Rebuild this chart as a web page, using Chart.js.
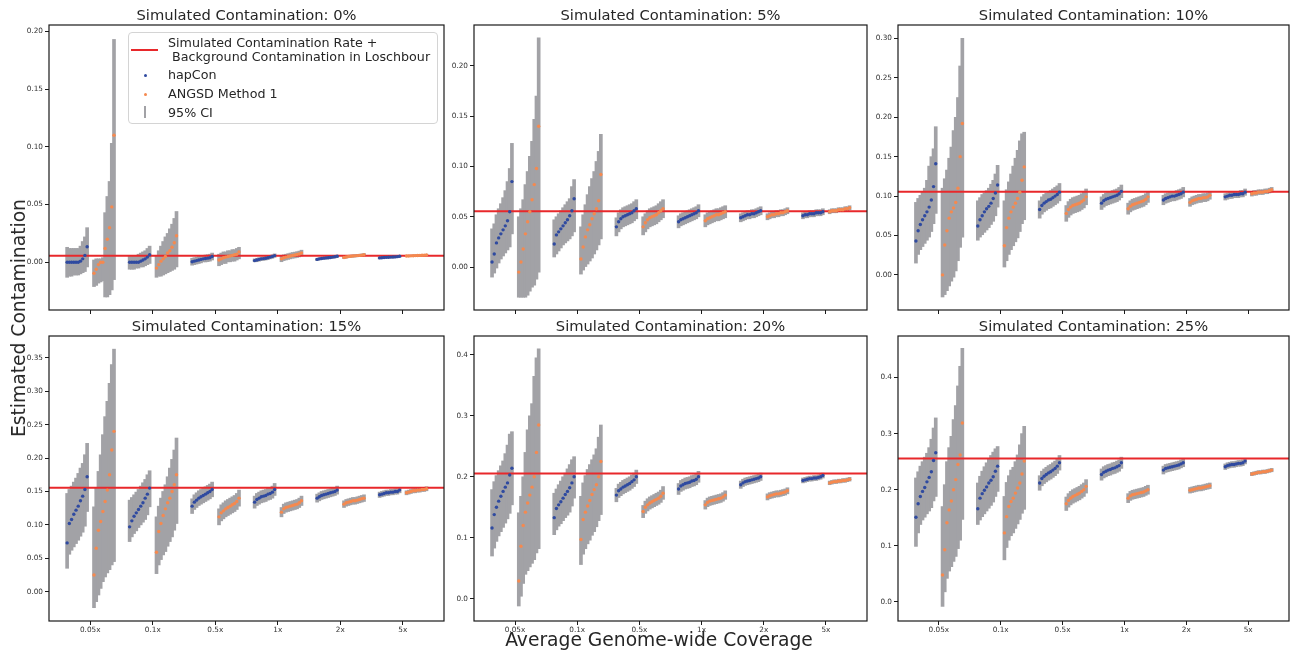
<!DOCTYPE html>
<html>
<head>
<meta charset="utf-8">
<script src="https://cdn.jsdelivr.net/npm/chart.js@4.4.1/dist/chart.umd.min.js"></script>
<style>
  body { margin: 0; width: 1290px; height: 653px; overflow: hidden; background: #fff; position: relative;
         font-family: "DejaVu Sans", sans-serif; color: #262626; }
  canvas { position: absolute; }
  .title { position: absolute; font-size: 14.7px; line-height: 18px; text-align: center; white-space: nowrap; }
  .leg { position: absolute; font-size: 12.7px; line-height: 15px; white-space: pre; }
  .axlabel { position: absolute; font-size: 18.7px; line-height: 22px; white-space: nowrap; }
</style>
</head>
<body>
<canvas id="c0"></canvas><canvas id="c1"></canvas><canvas id="c2"></canvas>
<canvas id="c3"></canvas><canvas id="c4"></canvas><canvas id="c5"></canvas>

<div id="legendBox" style="position:absolute;left:128px;top:32px;width:308px;height:90px;border:1px solid #d4d4d4;border-radius:4px;background:rgba(255,255,255,0.85);"></div>
<div style="position:absolute;left:131px;top:49px;width:27px;height:2px;background:#e8282b;"></div>
<div class="leg" style="left:168px;top:34.5px;">Simulated Contamination Rate +</div>
<div class="leg" style="left:168px;top:48.5px;"> Background Contamination in Loschbour</div>
<div style="position:absolute;left:143.5px;top:74px;width:3px;height:3px;border-radius:50%;background:#2f4aa0;"></div>
<div class="leg" style="left:168px;top:67px;">hapCon</div>
<div style="position:absolute;left:143.5px;top:92.5px;width:3px;height:3px;border-radius:50%;background:#f5894f;"></div>
<div class="leg" style="left:168px;top:85.5px;">ANGSD Method 1</div>
<div style="position:absolute;left:144px;top:106px;width:2px;height:12px;background:#a2a2a6;"></div>
<div class="leg" style="left:168px;top:104.5px;">95% CI</div>

<div class="axlabel" style="left:19px;top:318px;transform:translate(-50%,-50%) rotate(-90deg);">Estimated Contamination</div>
<div class="axlabel" style="left:659px;top:640px;transform:translate(-50%,-50%);">Average Genome-wide Coverage</div>

<script>
const coverages = ["0.05x", "0.1x", "0.5x", "1x", "2x", "5x"];
const contaminationRates = [0, 5, 10, 15, 20, 25]; // percent
const backgroundContamination = 0.0056;

// y tick values per panel
const yTicks0 = [0, 0.05, 0.10, 0.15, 0.20];
const yTicks5 = [0, 0.05, 0.10, 0.15, 0.20];
const yTicks10 = [0, 0.05, 0.10, 0.15, 0.20, 0.25, 0.30];
const yTicks15 = [0, 0.05, 0.10, 0.15, 0.20, 0.25, 0.30, 0.35];
const yTicks20 = [0, 0.1, 0.2, 0.3, 0.4];
const yTicks25 = [0, 0.1, 0.2, 0.3, 0.4];
const yMins = [-0.0413, -0.0427, -0.0445, -0.0439, -0.0366, -0.034];
const yMaxs = [0.2055, 0.2407, 0.317, 0.3827, 0.431, 0.474];

// each row = one coverage (0.05x .. 5x), sorted replicate estimates
// ---- 0% ----
const hap0Est = [
  [0,0,0,0,0,0,0.001,0.003,0.006,0.0135],
  [0,0,0,0,0,0.001,0.002,0.003,0.0045,0.0065],
  [0.0005,0.001,0.0015,0.002,0.0025,0.003,0.0033,0.0036,0.004,0.005],
  [0.0015,0.002,0.0025,0.003,0.0032,0.0035,0.004,0.0045,0.005,0.0058],
  [0.0025,0.003,0.0033,0.0036,0.0038,0.004,0.0042,0.0045,0.0048,0.0052],
  [0.0038,0.004,0.0042,0.0043,0.0044,0.0045,0.0046,0.0047,0.0049,0.0052]];
const hap0Lo = [
  [-0.013,-0.012,-0.012,-0.011,-0.011,-0.011,-0.010,-0.009,-0.008,-0.004],
  [-0.006,-0.006,-0.006,-0.005,-0.005,-0.004,-0.004,-0.003,-0.002,-0.001],
  [-0.0025,-0.002,-0.0015,-0.001,-0.0005,0,0.0003,0.0006,0.001,0.002],
  [0,0.0005,0.001,0.0015,0.0017,0.002,0.0025,0.003,0.0035,0.0043],
  [0.0015,0.002,0.0023,0.0026,0.0028,0.003,0.0032,0.0035,0.0038,0.0042],
  [0.003,0.0032,0.0034,0.0035,0.0036,0.0037,0.0038,0.0039,0.0041,0.0044]];
const hap0Hi = [
  [0.013,0.012,0.012,0.012,0.012,0.012,0.014,0.018,0.022,0.030],
  [0.006,0.006,0.006,0.006,0.007,0.008,0.009,0.010,0.012,0.014],
  [0.0035,0.004,0.0045,0.005,0.0055,0.006,0.0063,0.0066,0.007,0.008],
  [0.003,0.0035,0.004,0.0045,0.0047,0.005,0.0055,0.006,0.0065,0.0073],
  [0.0035,0.004,0.0043,0.0046,0.0048,0.005,0.0052,0.0055,0.0058,0.0062],
  [0.0046,0.0048,0.005,0.0051,0.0052,0.0053,0.0054,0.0055,0.0057,0.006]];
const ang0Est = [
  [-0.0095,-0.006,-0.002,0.0,0.0,0.012,0.020,0.030,0.048,0.110],
  [-0.005,-0.002,0.001,0.003,0.005,0.008,0.010,0.013,0.017,0.023],
  [0.002,0.003,0.004,0.0045,0.005,0.0055,0.006,0.0065,0.007,0.009],
  [0.003,0.004,0.0045,0.005,0.0055,0.006,0.0063,0.0067,0.0072,0.008],
  [0.0042,0.0046,0.005,0.0052,0.0054,0.0056,0.0058,0.006,0.0062,0.0066],
  [0.0054,0.0055,0.0056,0.0057,0.0058,0.0059,0.006,0.0061,0.0062,0.0064]];
const ang0Lo = [
  [-0.021,-0.020,-0.018,-0.017,-0.016,-0.030,-0.030,-0.028,-0.024,-0.015],
  [-0.013,-0.012,-0.012,-0.011,-0.010,-0.009,-0.008,-0.007,-0.006,-0.004],
  [-0.003,-0.002,-0.001,-0.001,0,0,0.001,0.001,0.002,0.003],
  [0.0005,0.0015,0.002,0.0025,0.003,0.0035,0.0038,0.0042,0.0047,0.0055],
  [0.0032,0.0036,0.004,0.0042,0.0044,0.0046,0.0048,0.005,0.0052,0.0056],
  [0.0048,0.0049,0.005,0.0051,0.0052,0.0053,0.0054,0.0055,0.0056,0.0058]];
const ang0Hi = [
  [0.002,0.003,0.003,0.003,0.004,0.043,0.057,0.070,0.103,0.193],
  [0.006,0.010,0.014,0.018,0.022,0.025,0.029,0.033,0.038,0.044],
  [0.007,0.008,0.009,0.009,0.010,0.010,0.011,0.011,0.012,0.013],
  [0.0055,0.0065,0.007,0.0075,0.008,0.0085,0.0088,0.0092,0.0097,0.0105],
  [0.0052,0.0056,0.006,0.0062,0.0064,0.0066,0.0068,0.007,0.0072,0.0076],
  [0.006,0.0061,0.0062,0.0063,0.0064,0.0065,0.0066,0.0067,0.0068,0.007]];

// ---- 5% ----
const hap5Est = [
  [0.005,0.013,0.024,0.029,0.033,0.037,0.041,0.046,0.055,0.085],
  [0.023,0.032,0.035,0.038,0.041,0.044,0.047,0.051,0.056,0.068],
  [0.040,0.045,0.048,0.050,0.051,0.052,0.053,0.054,0.056,0.058],
  [0.045,0.047,0.048,0.049,0.050,0.051,0.052,0.053,0.054,0.056],
  [0.049,0.050,0.051,0.052,0.052,0.053,0.053,0.054,0.055,0.056],
  [0.051,0.052,0.052,0.053,0.053,0.053,0.054,0.054,0.054,0.055]];
const hap5Lo = [
  [-0.010,-0.006,-0.001,0.004,0.008,0.011,0.014,0.017,0.020,0.033],
  [0.010,0.013,0.016,0.019,0.022,0.024,0.026,0.028,0.031,0.035],
  [0.031,0.035,0.038,0.040,0.041,0.042,0.043,0.044,0.046,0.048],
  [0.039,0.041,0.042,0.043,0.044,0.045,0.046,0.047,0.048,0.050],
  [0.045,0.046,0.047,0.048,0.048,0.049,0.049,0.050,0.051,0.052],
  [0.048,0.049,0.049,0.050,0.050,0.050,0.051,0.051,0.051,0.052]];
const hap5Hi = [
  [0.038,0.043,0.052,0.058,0.063,0.069,0.076,0.085,0.098,0.123],
  [0.047,0.050,0.053,0.056,0.059,0.062,0.065,0.068,0.080,0.087],
  [0.049,0.054,0.057,0.059,0.060,0.061,0.062,0.063,0.065,0.067],
  [0.051,0.053,0.054,0.055,0.056,0.057,0.058,0.059,0.060,0.062],
  [0.053,0.054,0.055,0.056,0.056,0.057,0.057,0.058,0.059,0.060],
  [0.054,0.055,0.055,0.056,0.056,0.056,0.057,0.057,0.057,0.058]];
const ang5Est = [
  [-0.005,0.005,0.018,0.033,0.045,0.055,0.067,0.082,0.098,0.140],
  [0.008,0.020,0.030,0.037,0.042,0.048,0.053,0.058,0.066,0.092],
  [0.040,0.044,0.047,0.049,0.050,0.051,0.052,0.054,0.056,0.058],
  [0.046,0.048,0.049,0.050,0.051,0.052,0.052,0.053,0.054,0.055],
  [0.050,0.051,0.052,0.052,0.053,0.053,0.054,0.054,0.055,0.056],
  [0.055,0.056,0.056,0.056,0.057,0.057,0.057,0.058,0.058,0.059]];
const ang5Lo = [
  [-0.030,-0.030,-0.030,-0.030,-0.028,-0.024,-0.020,-0.018,-0.012,-0.005],
  [-0.007,-0.003,0.000,0.003,0.006,0.009,0.013,0.017,0.022,0.028],
  [0.032,0.035,0.038,0.040,0.041,0.042,0.043,0.045,0.047,0.049],
  [0.040,0.042,0.043,0.044,0.045,0.046,0.046,0.047,0.048,0.049],
  [0.047,0.048,0.049,0.049,0.050,0.050,0.051,0.051,0.052,0.053],
  [0.053,0.054,0.054,0.054,0.055,0.055,0.055,0.056,0.056,0.057]];
const ang5Hi = [
  [0.050,0.058,0.067,0.082,0.095,0.110,0.125,0.147,0.170,0.228],
  [0.040,0.052,0.062,0.072,0.080,0.088,0.095,0.105,0.115,0.132],
  [0.050,0.053,0.056,0.058,0.059,0.060,0.061,0.063,0.065,0.067],
  [0.052,0.054,0.055,0.056,0.057,0.058,0.058,0.059,0.060,0.061],
  [0.053,0.054,0.055,0.055,0.056,0.056,0.057,0.057,0.058,0.059],
  [0.057,0.058,0.058,0.058,0.059,0.059,0.059,0.060,0.060,0.061]];

// ---- 10% ----
const hap10Est = [
  [0.043,0.056,0.064,0.070,0.075,0.080,0.086,0.095,0.112,0.141],
  [0.062,0.070,0.075,0.080,0.084,0.087,0.091,0.097,0.104,0.114],
  [0.083,0.088,0.091,0.093,0.095,0.096,0.098,0.100,0.102,0.105],
  [0.091,0.094,0.096,0.097,0.098,0.099,0.100,0.101,0.103,0.106],
  [0.095,0.097,0.098,0.099,0.100,0.100,0.101,0.102,0.103,0.105],
  [0.099,0.100,0.101,0.101,0.102,0.102,0.102,0.103,0.103,0.105]];
const hap10Lo = [
  [0.015,0.026,0.032,0.036,0.040,0.044,0.048,0.055,0.065,0.078],
  [0.044,0.048,0.051,0.054,0.057,0.060,0.064,0.068,0.075,0.086],
  [0.072,0.077,0.080,0.082,0.084,0.085,0.087,0.089,0.091,0.094],
  [0.083,0.086,0.088,0.089,0.090,0.091,0.092,0.093,0.095,0.098],
  [0.089,0.091,0.092,0.093,0.094,0.094,0.095,0.096,0.097,0.099],
  [0.095,0.096,0.097,0.097,0.098,0.098,0.098,0.099,0.099,0.101]];
const hap10Hi = [
  [0.092,0.097,0.101,0.105,0.110,0.120,0.138,0.150,0.160,0.188],
  [0.094,0.098,0.102,0.104,0.107,0.110,0.115,0.120,0.128,0.139],
  [0.094,0.099,0.102,0.104,0.106,0.107,0.109,0.111,0.113,0.116],
  [0.099,0.102,0.104,0.105,0.106,0.107,0.108,0.109,0.111,0.114],
  [0.101,0.103,0.104,0.105,0.106,0.106,0.107,0.108,0.109,0.111],
  [0.103,0.104,0.105,0.105,0.106,0.106,0.106,0.107,0.107,0.109]];
const ang10Est = [
  [0.000,0.038,0.056,0.072,0.080,0.085,0.092,0.110,0.150,0.192],
  [0.037,0.060,0.072,0.080,0.086,0.091,0.097,0.105,0.120,0.137],
  [0.078,0.083,0.086,0.088,0.089,0.090,0.091,0.093,0.095,0.099],
  [0.084,0.087,0.089,0.090,0.091,0.092,0.093,0.094,0.096,0.099],
  [0.092,0.094,0.095,0.096,0.097,0.097,0.098,0.098,0.099,0.101],
  [0.103,0.104,0.104,0.105,0.105,0.105,0.106,0.106,0.107,0.108]];
const ang10Lo = [
  [-0.028,-0.025,-0.020,-0.014,-0.008,-0.003,0.005,0.018,0.035,0.048],
  [0.010,0.018,0.026,0.032,0.037,0.042,0.047,0.055,0.065,0.070],
  [0.068,0.073,0.076,0.078,0.079,0.080,0.081,0.083,0.085,0.089],
  [0.077,0.080,0.082,0.083,0.084,0.085,0.086,0.087,0.089,0.092],
  [0.087,0.089,0.090,0.091,0.092,0.092,0.093,0.093,0.094,0.096],
  [0.100,0.101,0.101,0.102,0.102,0.102,0.103,0.103,0.104,0.105]];
const ang10Hi = [
  [0.110,0.122,0.133,0.148,0.162,0.183,0.200,0.225,0.265,0.300],
  [0.094,0.108,0.118,0.128,0.138,0.148,0.158,0.170,0.179,0.181],
  [0.088,0.093,0.096,0.098,0.099,0.100,0.101,0.103,0.105,0.109],
  [0.091,0.094,0.096,0.097,0.098,0.099,0.100,0.101,0.103,0.106],
  [0.097,0.099,0.100,0.101,0.102,0.102,0.103,0.103,0.104,0.106],
  [0.106,0.107,0.107,0.108,0.108,0.108,0.109,0.109,0.110,0.111]];

// ---- 15% ----
const hap15Est = [
  [0.073,0.102,0.108,0.116,0.122,0.128,0.136,0.143,0.153,0.172],
  [0.097,0.106,0.113,0.118,0.123,0.128,0.133,0.140,0.146,0.155],
  [0.128,0.134,0.137,0.140,0.142,0.144,0.146,0.148,0.150,0.153],
  [0.134,0.138,0.140,0.142,0.143,0.144,0.146,0.147,0.149,0.153],
  [0.140,0.142,0.144,0.145,0.146,0.147,0.148,0.149,0.150,0.152],
  [0.145,0.146,0.147,0.148,0.148,0.149,0.149,0.150,0.150,0.152]];
const hap15Lo = [
  [0.035,0.056,0.062,0.067,0.072,0.077,0.083,0.089,0.098,0.120],
  [0.075,0.082,0.087,0.091,0.096,0.100,0.104,0.108,0.115,0.127],
  [0.117,0.123,0.126,0.129,0.131,0.133,0.135,0.137,0.139,0.142],
  [0.125,0.129,0.131,0.133,0.134,0.135,0.137,0.138,0.140,0.144],
  [0.134,0.136,0.138,0.139,0.140,0.141,0.142,0.143,0.144,0.146],
  [0.141,0.142,0.143,0.144,0.144,0.145,0.145,0.146,0.146,0.148]];
const hap15Hi = [
  [0.147,0.153,0.158,0.164,0.170,0.177,0.185,0.192,0.205,0.222],
  [0.137,0.141,0.145,0.149,0.153,0.158,0.163,0.168,0.175,0.181],
  [0.139,0.145,0.148,0.151,0.153,0.155,0.157,0.159,0.161,0.164],
  [0.143,0.147,0.149,0.151,0.152,0.153,0.155,0.156,0.158,0.162],
  [0.146,0.148,0.150,0.151,0.152,0.153,0.154,0.155,0.156,0.158],
  [0.149,0.150,0.151,0.152,0.152,0.153,0.153,0.154,0.154,0.156]];
const ang15Est = [
  [0.025,0.065,0.092,0.105,0.120,0.135,0.152,0.175,0.212,0.240],
  [0.059,0.090,0.102,0.114,0.124,0.133,0.140,0.150,0.160,0.175],
  [0.112,0.118,0.121,0.124,0.126,0.128,0.130,0.132,0.135,0.140],
  [0.119,0.124,0.126,0.127,0.128,0.129,0.130,0.131,0.133,0.136],
  [0.131,0.133,0.134,0.135,0.136,0.136,0.137,0.138,0.139,0.140],
  [0.148,0.149,0.150,0.151,0.151,0.152,0.152,0.153,0.153,0.154]];
const ang15Lo = [
  [-0.024,-0.015,-0.005,0.005,0.015,0.022,0.028,0.033,0.040,0.045],
  [0.027,0.040,0.048,0.055,0.060,0.068,0.075,0.082,0.092,0.102],
  [0.100,0.106,0.109,0.112,0.114,0.116,0.118,0.120,0.123,0.128],
  [0.112,0.117,0.119,0.120,0.121,0.122,0.123,0.124,0.126,0.129],
  [0.126,0.128,0.129,0.130,0.131,0.131,0.132,0.133,0.134,0.135],
  [0.145,0.146,0.147,0.148,0.148,0.149,0.149,0.150,0.150,0.151]];
const ang15Hi = [
  [0.127,0.155,0.180,0.205,0.235,0.262,0.285,0.312,0.340,0.363],
  [0.112,0.128,0.140,0.150,0.160,0.172,0.185,0.198,0.212,0.230],
  [0.124,0.130,0.133,0.136,0.138,0.140,0.142,0.144,0.147,0.152],
  [0.126,0.131,0.133,0.134,0.135,0.136,0.137,0.138,0.140,0.143],
  [0.136,0.138,0.139,0.140,0.141,0.141,0.142,0.143,0.144,0.145],
  [0.151,0.152,0.153,0.154,0.154,0.155,0.155,0.156,0.156,0.157]];

// ---- 20% ----
const hap20Est = [
  [0.116,0.138,0.150,0.160,0.168,0.176,0.183,0.190,0.203,0.214],
  [0.133,0.148,0.154,0.159,0.165,0.171,0.176,0.182,0.190,0.200],
  [0.170,0.177,0.180,0.183,0.185,0.187,0.189,0.192,0.195,0.200],
  [0.180,0.185,0.187,0.189,0.190,0.191,0.193,0.194,0.196,0.200],
  [0.187,0.190,0.192,0.193,0.194,0.195,0.196,0.197,0.198,0.200],
  [0.194,0.195,0.196,0.197,0.197,0.198,0.198,0.199,0.200,0.202]];
const hap20Lo = [
  [0.070,0.083,0.094,0.103,0.110,0.117,0.124,0.131,0.140,0.154],
  [0.105,0.113,0.119,0.123,0.128,0.133,0.137,0.142,0.152,0.165],
  [0.159,0.166,0.169,0.172,0.174,0.176,0.178,0.181,0.184,0.189],
  [0.171,0.176,0.178,0.180,0.181,0.182,0.184,0.185,0.187,0.191],
  [0.181,0.184,0.186,0.187,0.188,0.189,0.190,0.191,0.192,0.194],
  [0.190,0.191,0.192,0.193,0.193,0.194,0.194,0.195,0.196,0.198]];
const hap20Hi = [
  [0.179,0.192,0.202,0.210,0.218,0.226,0.238,0.252,0.270,0.274],
  [0.173,0.180,0.187,0.193,0.200,0.206,0.213,0.220,0.228,0.233],
  [0.181,0.188,0.191,0.194,0.196,0.198,0.200,0.203,0.206,0.211],
  [0.189,0.194,0.196,0.198,0.199,0.200,0.202,0.203,0.205,0.209],
  [0.193,0.196,0.198,0.199,0.200,0.201,0.202,0.203,0.204,0.206],
  [0.198,0.199,0.200,0.201,0.201,0.202,0.202,0.203,0.204,0.206]];
const ang20Est = [
  [0.029,0.086,0.120,0.142,0.157,0.170,0.183,0.200,0.240,0.285],
  [0.097,0.130,0.142,0.152,0.161,0.171,0.179,0.187,0.200,0.225],
  [0.143,0.150,0.154,0.157,0.159,0.161,0.163,0.165,0.168,0.173],
  [0.154,0.158,0.160,0.161,0.162,0.163,0.164,0.165,0.167,0.170],
  [0.167,0.169,0.170,0.171,0.172,0.172,0.173,0.174,0.175,0.177],
  [0.190,0.191,0.192,0.192,0.193,0.193,0.194,0.194,0.195,0.196]];
const ang20Lo = [
  [-0.012,0.004,0.025,0.040,0.046,0.052,0.058,0.064,0.075,0.082],
  [0.056,0.073,0.082,0.090,0.096,0.104,0.110,0.118,0.128,0.138],
  [0.133,0.140,0.144,0.147,0.149,0.151,0.153,0.155,0.158,0.163],
  [0.147,0.151,0.153,0.154,0.155,0.156,0.157,0.158,0.160,0.163],
  [0.162,0.164,0.165,0.166,0.167,0.167,0.168,0.169,0.170,0.172],
  [0.187,0.188,0.189,0.189,0.190,0.190,0.191,0.191,0.192,0.193]];
const ang20Hi = [
  [0.141,0.168,0.200,0.240,0.277,0.300,0.320,0.365,0.395,0.410],
  [0.168,0.190,0.202,0.212,0.220,0.228,0.236,0.246,0.265,0.285],
  [0.153,0.160,0.164,0.167,0.169,0.171,0.173,0.175,0.178,0.184],
  [0.161,0.165,0.167,0.168,0.169,0.170,0.171,0.172,0.174,0.177],
  [0.172,0.174,0.175,0.176,0.177,0.177,0.178,0.179,0.180,0.182],
  [0.193,0.194,0.195,0.195,0.196,0.196,0.197,0.197,0.198,0.199]];

// ---- 25% ----
const hap25Est = [
  [0.151,0.175,0.188,0.197,0.204,0.214,0.222,0.232,0.252,0.266],
  [0.166,0.185,0.193,0.199,0.205,0.212,0.217,0.223,0.233,0.242],
  [0.212,0.220,0.224,0.227,0.230,0.232,0.235,0.238,0.242,0.248],
  [0.227,0.231,0.233,0.235,0.236,0.238,0.239,0.241,0.243,0.248],
  [0.235,0.238,0.239,0.240,0.241,0.242,0.243,0.244,0.246,0.248],
  [0.241,0.243,0.244,0.245,0.245,0.246,0.247,0.247,0.248,0.251]];
const hap25Lo = [
  [0.099,0.123,0.138,0.146,0.151,0.157,0.162,0.168,0.180,0.188],
  [0.138,0.146,0.152,0.157,0.162,0.167,0.172,0.178,0.188,0.197],
  [0.199,0.207,0.211,0.214,0.217,0.219,0.222,0.225,0.229,0.235],
  [0.217,0.221,0.223,0.225,0.226,0.228,0.229,0.231,0.233,0.238],
  [0.228,0.231,0.232,0.233,0.234,0.235,0.236,0.237,0.239,0.241],
  [0.236,0.238,0.239,0.240,0.240,0.241,0.242,0.242,0.243,0.246]];
const hap25Hi = [
  [0.221,0.232,0.242,0.250,0.258,0.265,0.275,0.290,0.310,0.328],
  [0.212,0.224,0.233,0.241,0.248,0.255,0.261,0.267,0.273,0.277],
  [0.225,0.233,0.237,0.240,0.243,0.245,0.248,0.251,0.255,0.261],
  [0.237,0.241,0.243,0.245,0.246,0.248,0.249,0.251,0.253,0.258],
  [0.242,0.245,0.246,0.247,0.248,0.249,0.250,0.251,0.253,0.255],
  [0.246,0.248,0.249,0.250,0.250,0.251,0.252,0.252,0.253,0.256]];
const ang25Est = [
  [0.048,0.093,0.141,0.164,0.180,0.200,0.218,0.245,0.262,0.319],
  [0.123,0.152,0.170,0.179,0.185,0.194,0.203,0.212,0.228,0.251],
  [0.175,0.181,0.185,0.188,0.190,0.192,0.194,0.197,0.200,0.206],
  [0.185,0.189,0.191,0.192,0.193,0.194,0.195,0.196,0.198,0.200],
  [0.199,0.200,0.201,0.202,0.203,0.203,0.204,0.205,0.206,0.207],
  [0.228,0.229,0.230,0.231,0.231,0.232,0.232,0.233,0.234,0.235]];
const ang25Lo = [
  [-0.008,0.018,0.042,0.055,0.063,0.072,0.081,0.095,0.110,0.147],
  [0.075,0.097,0.110,0.118,0.123,0.131,0.139,0.147,0.158,0.165],
  [0.163,0.169,0.173,0.176,0.178,0.180,0.182,0.185,0.188,0.194],
  [0.177,0.181,0.183,0.184,0.185,0.186,0.187,0.188,0.190,0.192],
  [0.194,0.195,0.196,0.197,0.198,0.198,0.199,0.200,0.201,0.202],
  [0.225,0.226,0.227,0.228,0.228,0.229,0.229,0.230,0.231,0.232]];
const ang25Hi = [
  [0.170,0.209,0.250,0.275,0.295,0.325,0.350,0.385,0.420,0.452],
  [0.188,0.213,0.225,0.235,0.240,0.250,0.262,0.280,0.300,0.313],
  [0.187,0.193,0.197,0.200,0.202,0.204,0.206,0.209,0.212,0.218],
  [0.193,0.197,0.199,0.200,0.201,0.202,0.203,0.204,0.206,0.208],
  [0.204,0.205,0.206,0.207,0.208,0.208,0.209,0.210,0.211,0.212],
  [0.231,0.232,0.233,0.234,0.234,0.235,0.235,0.236,0.237,0.238]];

const panels = [
  { hapEst: hap0Est, hapLo: hap0Lo, hapHi: hap0Hi, angEst: ang0Est, angLo: ang0Lo, angHi: ang0Hi, yTicks: yTicks0 },
  { hapEst: hap5Est, hapLo: hap5Lo, hapHi: hap5Hi, angEst: ang5Est, angLo: ang5Lo, angHi: ang5Hi, yTicks: yTicks5 },
  { hapEst: hap10Est, hapLo: hap10Lo, hapHi: hap10Hi, angEst: ang10Est, angLo: ang10Lo, angHi: ang10Hi, yTicks: yTicks10 },
  { hapEst: hap15Est, hapLo: hap15Lo, hapHi: hap15Hi, angEst: ang15Est, angLo: ang15Lo, angHi: ang15Hi, yTicks: yTicks15 },
  { hapEst: hap20Est, hapLo: hap20Lo, hapHi: hap20Hi, angEst: ang20Est, angLo: ang20Lo, angHi: ang20Hi, yTicks: yTicks20 },
  { hapEst: hap25Est, hapLo: hap25Lo, hapHi: hap25Hi, angEst: ang25Est, angLo: ang25Lo, angHi: ang25Hi, yTicks: yTicks25 }
];

const BLUE = "#2f4aa0", ORANGE = "#f5894f", GRAY = "#a2a2a6", RED = "#e8282b";
const X_MIN = -0.66, X_MAX = 5.66;
const REPS = 10, SPREAD = 0.32;

// plot boxes (left, top, width, height) in page pixels
const boxLefts = [49, 474, 898], boxWidths = [395, 393, 391];
const boxTops = [25, 336], boxHeight = 285;
const AXIS_W = 45, AXIS_H = 20, PAD_T = 8, PAD_R = 6;

// replicate offset around the coverage tick: hapCon left, ANGSD right
function xOffset(method, i) {
  const start = method === "hap" ? -0.37 : 0.06;
  return start + i * SPREAD / (REPS - 1);
}

const framePlugin = {
  id: "frame",
  afterDraw(chart) {
    const { ctx, chartArea: a } = chart;
    ctx.save();
    ctx.strokeStyle = "#1a1a1a";
    ctx.lineWidth = 1.2;
    ctx.strokeRect(a.left, a.top, a.right - a.left, a.bottom - a.top);
    ctx.restore();
  }
};

panels.forEach((p, k) => {
  const row = Math.floor(k / 3), col = k % 3;
  const L = boxLefts[col], T = boxTops[row], W = boxWidths[col], H = boxHeight;
  const canvas = document.getElementById("c" + k);
  canvas.width = W + AXIS_W + PAD_R;
  canvas.height = H + PAD_T + AXIS_H;
  canvas.style.left = (L - AXIS_W) + "px";
  canvas.style.top = (T - PAD_T) + "px";

  const title = document.createElement("div");
  title.className = "title";
  title.textContent = "Simulated Contamination: " + contaminationRates[k] + "%";
  title.style.left = L + "px";
  title.style.width = W + "px";
  title.style.top = (T - 19) + "px";
  document.body.appendChild(title);

  const hapPts = [], angPts = [], ciBars = [];
  coverages.forEach((c, g) => {
    for (let i = 0; i < REPS; i++) {
      const xh = g + xOffset("hap", i), xa = g + xOffset("ang", i);
      hapPts.push({ x: xh, y: p.hapEst[g][i] });
      angPts.push({ x: xa, y: p.angEst[g][i] });
      ciBars.push({ x: xh, y: [p.hapLo[g][i], p.hapHi[g][i]] });
      ciBars.push({ x: xa, y: [p.angLo[g][i], p.angHi[g][i]] });
    }
  });
  const truth = contaminationRates[k] / 100 + backgroundContamination;
  const decimals = p.yTicks[1] < 0.1 ? 2 : 1;

  new Chart(canvas, {
    type: "scatter",
    data: {
      datasets: [
        { type: "scatter", label: "hapCon", data: hapPts, order: 0,
          backgroundColor: BLUE, borderColor: BLUE, pointRadius: 1.7, borderWidth: 0 },
        { type: "scatter", label: "ANGSD Method 1", data: angPts, order: 0,
          backgroundColor: ORANGE, borderColor: ORANGE, pointRadius: 1.7, borderWidth: 0 },
        { type: "line", label: "truth", data: [{ x: X_MIN, y: truth }, { x: X_MAX, y: truth }], order: 1,
          borderColor: RED, borderWidth: 2, pointRadius: 0, fill: false },
        { type: "bar", label: "95% CI", data: ciBars, order: 2, grouped: false,
          backgroundColor: GRAY, borderWidth: 0, barThickness: 3 }
      ]
    },
    options: {
      responsive: false,
      animation: false,
      devicePixelRatio: 1,
      layout: { padding: { left: 0, top: PAD_T, right: PAD_R, bottom: 0 } },
      plugins: { legend: { display: false }, tooltip: { enabled: false }, title: { display: false } },
      scales: {
        x: {
          type: "linear", min: X_MIN, max: X_MAX, offset: false,
          afterBuildTicks: (axis) => { axis.ticks = coverages.map((c, i) => ({ value: i })); },
          afterFit: (axis) => { axis.height = AXIS_H; },
          grid: { offset: false, drawOnChartArea: false, drawTicks: true, tickLength: 4, color: "#1a1a1a", lineWidth: 1 },
          border: { display: false },
          ticks: {
            autoSkip: false, maxRotation: 0, padding: 1, color: "#333",
            font: { family: "DejaVu Sans", size: 7.3 },
            callback: (v) => row === 1 ? coverages[v] : ""
          }
        },
        y: {
          type: "linear", min: yMins[k], max: yMaxs[k],
          afterBuildTicks: (axis) => { axis.ticks = p.yTicks.map(v => ({ value: v })); },
          afterFit: (axis) => { axis.width = AXIS_W; },
          grid: { drawOnChartArea: false, drawTicks: true, tickLength: 4, color: "#1a1a1a", lineWidth: 1 },
          border: { display: false },
          ticks: {
            padding: 2, color: "#333",
            font: { family: "DejaVu Sans", size: 7.3 },
            callback: (v) => Number(v).toFixed(decimals)
          }
        }
      }
    },
    plugins: [framePlugin]
  });
});
</script>
</body>
</html>
